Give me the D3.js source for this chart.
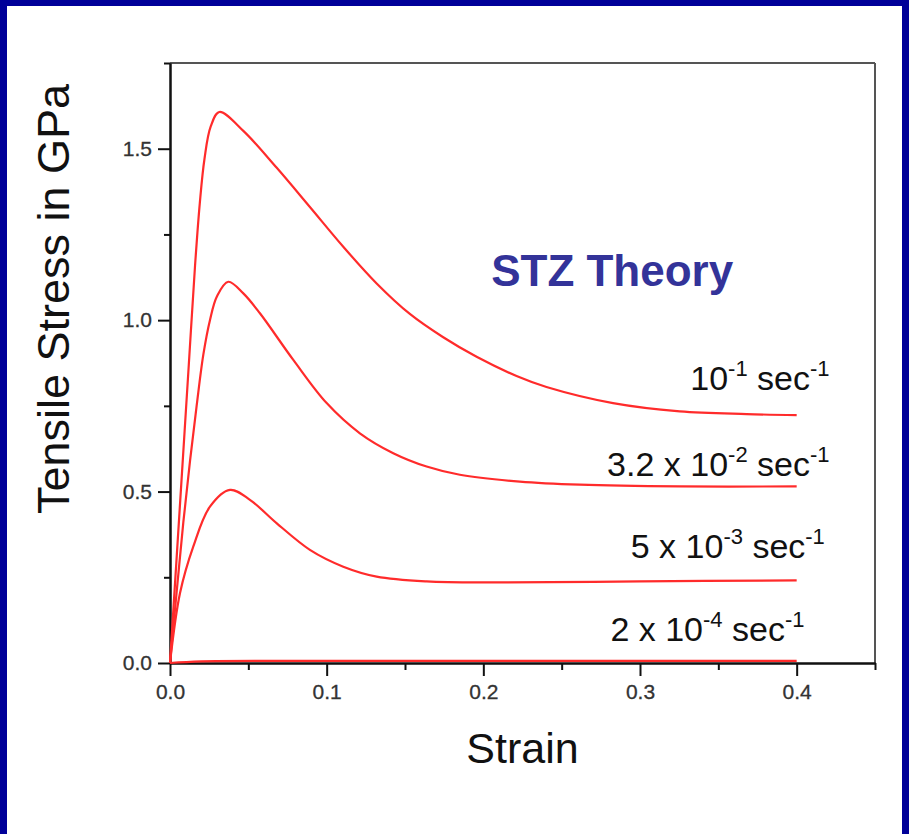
<!DOCTYPE html>
<html>
<head>
<meta charset="utf-8">
<script src="https://cdn.jsdelivr.net/npm/d3@7"></script>
<style>
  body { margin: 0; background: #000099; }
  svg { display: block; }
  text { font-family: "Liberation Sans", Arial, sans-serif; }
</style>
</head>
<body>
<script>
// stress-strain curves, one pair of arrays per strain rate
var strain1 = [0, 0.004, 0.008, 0.012, 0.016, 0.019, 0.022, 0.026, 0.0315, 0.0468, 0.068, 0.0893, 0.1106, 0.1319, 0.1531, 0.1744, 0.1957, 0.2212, 0.2403, 0.2828, 0.3254, 0.368, 0.4];
var stress1 = [0, 0.29, 0.58, 0.87, 1.16, 1.34, 1.47, 1.565, 1.607, 1.552, 1.445, 1.330, 1.214, 1.107, 1.018, 0.950, 0.893, 0.837, 0.805, 0.758, 0.734, 0.726, 0.723];

var strain2 = [0, 0.0043, 0.0085, 0.0128, 0.017, 0.0213, 0.0255, 0.03, 0.0372, 0.0468, 0.0574, 0.0787, 0.1, 0.1212, 0.1425, 0.1638, 0.185, 0.2233, 0.2616, 0.3254, 0.4];
var stress2 = [0, 0.21, 0.41, 0.59, 0.75, 0.90, 1.0, 1.07, 1.112, 1.078, 1.020, 0.884, 0.758, 0.670, 0.612, 0.573, 0.549, 0.529, 0.520, 0.515, 0.515];

var strain3 = [0, 0.0064, 0.0149, 0.0255, 0.0383, 0.051, 0.068, 0.0893, 0.1106, 0.1319, 0.1638, 0.2063, 0.3, 0.4];
var stress3 = [0, 0.204, 0.340, 0.456, 0.505, 0.476, 0.408, 0.330, 0.281, 0.252, 0.238, 0.235, 0.238, 0.241];

var strain4 = [0, 0.02, 0.1, 0.4];
var stress4 = [0, 0.005, 0.006, 0.006];

// rate labels: base, exponent, where the label ends and sits
var rateBase = ["10", "3.2 x 10", "5 x 10", "2 x 10"];
var rateExp = ["-1", "-2", "-3", "-4"];
var labelEnd = [0.421, 0.421, 0.418, 0.405];
var labelStress = [0.796, 0.546, 0.307, 0.063];

var xTicks = [0, 0.1, 0.2, 0.3, 0.4];
var xMinor = [0.05, 0.15, 0.25, 0.35, 0.45];
var yTicks = [0, 0.5, 1.0, 1.5];
var yMinor = [0.25, 0.75, 1.25, 1.75];

var W = 909, H = 834;
var margin = { top: 63, right: 34, bottom: 171, left: 170 },
    width = W - margin.left - margin.right,
    height = H - margin.top - margin.bottom;

var root = d3.select("body").append("svg")
    .attr("width", W)
    .attr("height", H);

// slide frame
root.append("rect").attr("width", W).attr("height", H).attr("fill", "#000099");
root.append("rect").attr("x", 7).attr("y", 6).attr("width", W - 14).attr("height", H - 6).attr("fill", "#ffffff");

var svg = root.append("g")
    .attr("transform", "translate(" + margin.left + "," + margin.top + ")");

var x = d3.scaleLinear().domain([0, 0.45]).range([0, width]);
var y = d3.scaleLinear().domain([0, 1.75]).range([height, 0]);

// top and right frame lines
svg.append("line").attr("x1", 0).attr("x2", width).attr("y1", 0).attr("y2", 0)
    .attr("stroke", "#555").attr("stroke-width", 2);
svg.append("line").attr("x1", width).attr("x2", width).attr("y1", 0).attr("y2", height)
    .attr("stroke", "#555").attr("stroke-width", 2);

function styleAxis(g) {
    g.attr("font-size", 21).attr("font-family", "'Liberation Sans', Arial, sans-serif");
    g.select(".domain").attr("stroke", "#111").attr("stroke-width", 2);
    g.selectAll(".tick line").attr("stroke", "#111").attr("stroke-width", 2);
    g.selectAll(".tick text").attr("fill", "#333").attr("stroke", "#333").attr("stroke-width", 0.3);
}

svg.append("g")
    .attr("transform", "translate(0," + height + ")")
    .call(d3.axisBottom(x).tickValues(xMinor).tickSize(7).tickFormat("").tickSizeOuter(0))
    .call(styleAxis);
svg.append("g")
    .attr("transform", "translate(0," + height + ")")
    .call(d3.axisBottom(x).tickValues(xTicks).tickSize(13).tickPadding(8).tickFormat(d3.format(".1f")).tickSizeOuter(0))
    .call(styleAxis);

svg.append("g")
    .call(d3.axisLeft(y).tickValues(yMinor).tickSize(6).tickFormat("").tickSizeOuter(0))
    .call(styleAxis);
svg.append("g")
    .call(d3.axisLeft(y).tickValues(yTicks).tickSize(12).tickPadding(6).tickFormat(d3.format(".1f")).tickSizeOuter(0))
    .call(styleAxis);

// curves
var line = d3.line()
    .x(function(d) { return x(d[0]); })
    .y(function(d) { return y(d[1]); })
    .curve(d3.curveCatmullRom.alpha(0.5));

var curves = [
    d3.zip(strain1, stress1),
    d3.zip(strain2, stress2),
    d3.zip(strain3, stress3),
    d3.zip(strain4, stress4)
];

svg.selectAll(".curve")
    .data(curves)
    .enter().append("path")
    .attr("class", "curve")
    .attr("d", line)
    .attr("fill", "none")
    .attr("stroke", "#ff2b2b")
    .attr("stroke-width", 2.2);

// rate labels with superscripts
rateBase.forEach(function(b, i) {
    var t = svg.append("text")
        .attr("x", x(labelEnd[i]))
        .attr("y", y(labelStress[i]))
        .attr("text-anchor", "end")
        .attr("font-size", "34px")
        .attr("fill", "#111");
    t.append("tspan").text(b);
    t.append("tspan").attr("font-size", "22px").attr("dy", -14).text(rateExp[i]);
    t.append("tspan").attr("dy", 14).text(" sec");
    t.append("tspan").attr("font-size", "22px").attr("dy", -14).text("-1");
});

svg.append("text")
    .attr("x", x(0.205))
    .attr("y", y(1.099))
    .attr("font-size", "44px")
    .attr("font-weight", "bold")
    .attr("fill", "#333399")
    .text("STZ Theory");

// axis titles
root.append("text")
    .attr("x", margin.left + width / 2)
    .attr("y", 763)
    .attr("text-anchor", "middle")
    .attr("font-size", "43px")
    .attr("fill", "#111")
    .text("Strain");

root.append("text")
    .attr("transform", "translate(69,299) rotate(-90)")
    .attr("text-anchor", "middle")
    .attr("font-size", "45px")
    .attr("fill", "#111")
    .text("Tensile Stress in GPa");
</script>
</body>
</html>
